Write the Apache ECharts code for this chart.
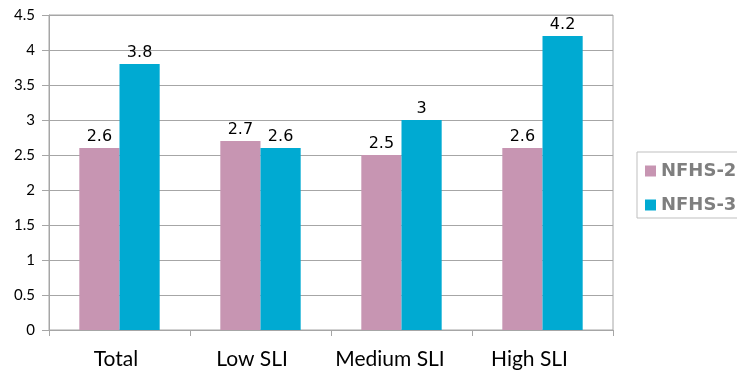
<!DOCTYPE html>
<html>
<head>
<meta charset="utf-8">
<script src="https://cdn.jsdelivr.net/npm/echarts@6/dist/echarts.min.js"></script>
<style>
  html, body { margin: 0; padding: 0; background: #fff; }
  #chart { width: 737px; height: 374px; }
</style>
</head>
<body>
<div id="chart"></div>
<script>
// Mean values by standard of living index, two survey rounds
const categories = ['Total', 'Low SLI', 'Medium SLI', 'High SLI'];
const nfhs2 = [2.6, 2.7, 2.5, 2.6];
const nfhs3 = [3.8, 2.6, 3, 4.2];
const yTicks = ['0', '0.5', '1', '1.5', '2', '2.5', '3', '3.5', '4', '4.5'];

// right-hand padding per category label (nudges each label slightly left)
const labelPadRight = [7, 17, 23, 26];

const gridColor = '#a6a6a6';
const labelStyle = {
  show: true,
  position: 'top',
  distance: 3,
  color: '#000',
  fontFamily: 'DejaVu Sans',
  fontSize: 16
};

const chart = echarts.init(document.getElementById('chart'), null, { renderer: 'canvas' });
chart.setOption({
  animation: false,
  grid: {
    left: 49, right: 124, top: 15, bottom: 44,
    show: true, borderColor: gridColor, borderWidth: 1
  },
  legend: {
    orient: 'vertical',
    left: 637, top: 152,
    itemWidth: 11, itemHeight: 11, itemGap: 16, itemTextGap: 11,
    icon: 'rect',
    textStyle: { color: '#7f7f7f', fontFamily: 'DejaVu Sans', fontWeight: 'bold', fontSize: 18 },
    borderColor: '#bfbfbf', borderWidth: 1,
    padding: [10, 10, 4, 8],
    data: ['NFHS-2', 'NFHS-3']
  },
  xAxis: {
    type: 'category',
    data: categories.map((c, i) => ({
      value: c,
      textStyle: { padding: [0, labelPadRight[i], 0, 0] }
    })),
    axisLine: { lineStyle: { color: gridColor } },
    axisTick: { show: true, length: 6, lineStyle: { color: gridColor } },
    axisLabel: { interval: 0, color: '#000', fontFamily: 'Lato', fontSize: 21, margin: 19 }
  },
  yAxis: {
    type: 'value',
    min: 0, max: 4.5, interval: 0.5,
    axisLine: { show: true, lineStyle: { color: gridColor } },
    axisTick: { show: true, length: 7, lineStyle: { color: gridColor } },
    splitLine: { lineStyle: { color: gridColor, width: 1 } },
    axisLabel: {
      color: '#000', fontFamily: 'Lato', fontSize: 15, margin: 14,
      formatter: (v) => yTicks[Math.round(v / 0.5)]
    }
  },
  series: [
    {
      name: 'NFHS-2', type: 'bar', data: nfhs2,
      barGap: '0%', barCategoryGap: '43%',
      itemStyle: { color: '#c795b2' },
      label: labelStyle
    },
    {
      name: 'NFHS-3', type: 'bar', data: nfhs3,
      itemStyle: { color: '#00aad2' },
      label: labelStyle
    }
  ]
});
</script>
</body>
</html>
